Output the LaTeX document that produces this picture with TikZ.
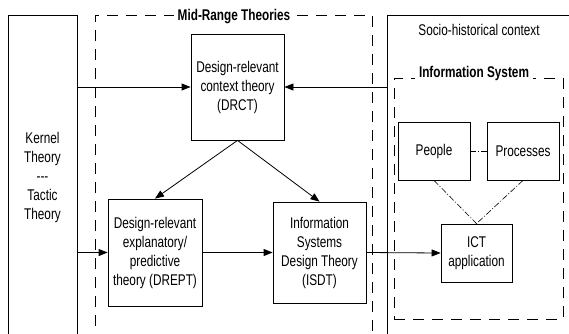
\documentclass[tikz,border=0pt]{standalone}
\usepackage{fontspec}
\setmainfont[FakeStretch=0.76]{Liberation Sans}
\usetikzlibrary{arrows.meta}

\tikzset{
    box/.style={draw, line width=0.8pt, align=center, inner sep=0pt},
    frame/.style={draw, dash pattern=on 11pt off 8pt, line width=0.8pt},
    link/.style={-{Triangle[length=9pt,width=7pt]}, line width=0.8pt},
    tie/.style={dash pattern=on 6pt off 2pt on 1pt off 2pt, line width=0.6pt}
}

\begin{document}
\begin{tikzpicture}[x=1pt,y=-1pt,font=\fontsize{15.5}{19}\selectfont]
    \clip (0,0) rectangle (569,333);
    % outer frames
    \node [box, minimum width=69pt, minimum height=325pt] (kernel) at (42.5,177.5)
        {Kernel\\Theory\\{-}{-}{-}\\Tactic\\Theory};
    \draw [frame, draw=black] (95,345) -- (95,15) -- (372,15) -- (372,345);
    \node [fill=white, inner xsep=4pt, font=\fontsize{15.5}{19}\selectfont\bfseries] (midtitle) at (234,17) {Mid-Range Theories};
    \node [box, minimum width=220pt, minimum height=330pt] (socio) at (497,180) {};
    \node (sociotitle) at (479,30) {Socio-historical context};
    \node [frame, minimum width=169pt, minimum height=241pt] (infosys) at (478.5,198.5) {};
    \node [fill=white, inner xsep=4pt, inner ysep=1pt, font=\fontsize{15.5}{19}\selectfont\bfseries] (infotitle) at (474,73) {Information System};

    % theories
    \node [box, minimum width=93pt, minimum height=106pt] (drct) at (237.5,87)
        {Design-relevant\\context theory\\(DRCT)};
    \node [box, minimum width=94pt, minimum height=107pt] (drept) at (155,252.5)
        {Design-relevant\\explanatory/\\predictive\\theory (DREPT)};
    \node [box, minimum width=93pt, minimum height=101pt] (isdt) at (319.5,252.5)
        {Information\\Systems\\Design Theory\\(ISDT)};

    % information system parts
    \node [box, minimum width=72pt, minimum height=58pt] (people) at (434,151) {People};
    \node [box, minimum width=72pt, minimum height=58pt] (processes) at (523,151) {Processes};
    \node [box, minimum width=71pt, minimum height=58pt] (ict) at (476.5,253) {ICT\\application};

    \draw [link] (kernel.east |- drct.west) -- (drct.west);
    \draw [link] (socio.west |- drct.east) -- (drct.east);
    \draw [link] (drct.south) -- (drept.north);
    \draw [link] (drct.south) -- (isdt.north);
    \draw [link] (kernel.east |- drept.west) -- (drept.west);
    \draw [link] (drept.east) -- (isdt.west);
    \draw [link] (isdt.east) -- (ict.west);
    \draw [tie] (people.east) -- (processes.west);
    \draw [tie] (people.south) -- (ict.north);
    \draw [tie] (processes.south) -- (ict.north);
\end{tikzpicture}
\end{document}
